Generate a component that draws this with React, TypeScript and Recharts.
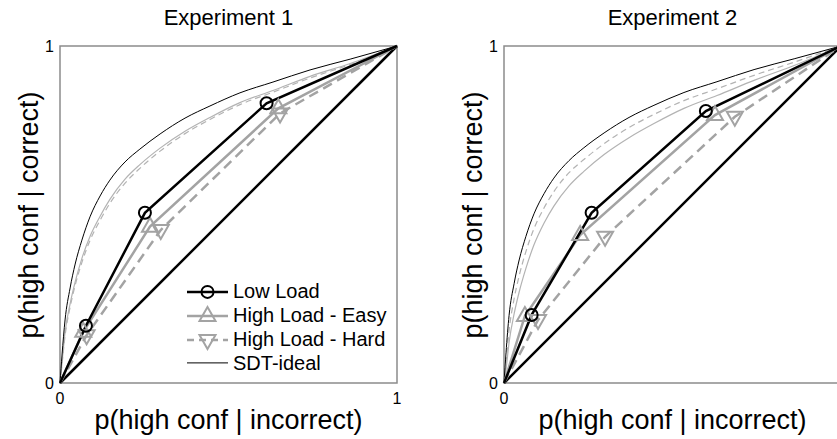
import React from 'react'
import { ComposedChart, Line, XAxis, YAxis, ReferenceArea, Legend } from 'recharts'

type Pt = { x: number; y: number }

const FONT = '"Liberation Sans", Arial, Helvetica, sans-serif'
const GREY = '#a3a3a3'
const THIN_GREY = '#b3b3b3'

const titles = ['Experiment 1', 'Experiment 2']
const xLabel = 'p(high conf | incorrect)'
const yLabel = 'p(high conf | correct)'
const yTicks = [0, 1]
const xTicks1 = [0, 1]
const xTicks2 = [0]
const legendNames = ['Low Load', 'High Load - Easy', 'High Load - Hard', 'SDT-ideal']

// chance diagonal
const chance: Pt[] = [{ x: 0, y: 0 }, { x: 1, y: 1 }]

// observed ROC points, anchored at (0,0) and (1,1)
const exp1Low: Pt[] = [{ x: 0, y: 0 }, { x: 0.077, y: 0.17 }, { x: 0.252, y: 0.505 }, { x: 0.613, y: 0.83 }, { x: 1, y: 1 }]
const exp1Easy: Pt[] = [{ x: 0, y: 0 }, { x: 0.069, y: 0.152 }, { x: 0.267, y: 0.464 }, { x: 0.648, y: 0.815 }, { x: 1, y: 1 }]
const exp1Hard: Pt[] = [{ x: 0, y: 0 }, { x: 0.079, y: 0.142 }, { x: 0.299, y: 0.454 }, { x: 0.653, y: 0.8 }, { x: 1, y: 1 }]

const exp2Low: Pt[] = [{ x: 0, y: 0 }, { x: 0.082, y: 0.202 }, { x: 0.26, y: 0.505 }, { x: 0.599, y: 0.807 }, { x: 1, y: 1 }]
const exp2Easy: Pt[] = [{ x: 0, y: 0 }, { x: 0.062, y: 0.199 }, { x: 0.226, y: 0.439 }, { x: 0.626, y: 0.795 }, { x: 1, y: 1 }]
const exp2Hard: Pt[] = [{ x: 0, y: 0 }, { x: 0.101, y: 0.187 }, { x: 0.3, y: 0.434 }, { x: 0.685, y: 0.79 }, { x: 1, y: 1 }]

// SDT-ideal curves (false alarm rate grid shared by all curves)
const sdtX = [0, 0.006, 0.015, 0.03, 0.045, 0.065, 0.089, 0.119, 0.148, 0.193, 0.237, 0.297, 0.371, 0.445, 0.534, 0.632, 0.742, 0.861, 1]

const sdt1LowY = [0, 0.083, 0.187, 0.282, 0.353, 0.424, 0.493, 0.555, 0.602, 0.656, 0.694, 0.739, 0.786, 0.822, 0.861, 0.893, 0.929, 0.961, 1]
const sdt1EasyY = [0, 0.06, 0.15, 0.235, 0.3, 0.37, 0.435, 0.495, 0.545, 0.605, 0.648, 0.697, 0.747, 0.788, 0.832, 0.868, 0.91, 0.948, 1]
const sdt1HardY = [0, 0.055, 0.14, 0.225, 0.29, 0.358, 0.423, 0.483, 0.533, 0.593, 0.637, 0.688, 0.74, 0.782, 0.826, 0.863, 0.905, 0.945, 1]

const sdt2LowY = [0, 0.09, 0.2, 0.295, 0.365, 0.435, 0.502, 0.562, 0.608, 0.66, 0.698, 0.742, 0.788, 0.824, 0.862, 0.894, 0.93, 0.962, 1]
const sdt2HardY = [0, 0.06, 0.155, 0.25, 0.318, 0.39, 0.458, 0.52, 0.568, 0.624, 0.663, 0.71, 0.758, 0.797, 0.838, 0.873, 0.913, 0.952, 1]
const sdt2EasyY = [0, 0.04, 0.12, 0.205, 0.27, 0.34, 0.41, 0.475, 0.525, 0.585, 0.628, 0.678, 0.728, 0.77, 0.815, 0.853, 0.898, 0.942, 1]

const toPts = (ys: number[]): Pt[] => ys.map((y, i) => ({ x: sdtX[i], y }))

type Shape = 'circle' | 'up' | 'down'

const MarkerShape = ({ cx, cy, shape, color }: { cx: number; cy: number; shape: Shape; color: string }) => {
  if (shape === 'circle') return <circle cx={cx} cy={cy} r={6} fill="none" stroke={color} strokeWidth={2} />
  const pts =
    shape === 'up'
      ? `${cx},${cy - 9} ${cx - 8},${cy + 5} ${cx + 8},${cy + 5}`
      : `${cx},${cy + 9} ${cx - 8},${cy - 5} ${cx + 8},${cy - 5}`
  return <polygon points={pts} fill="none" stroke={color} strokeWidth={2} />
}

// markers only on the interior points, not the anchors
const makeDot = (shape: Shape, color: string) => (props: any) => {
  const { cx, cy, payload, index } = props
  if (cx == null || payload.x <= 0 || payload.x >= 1) return <g key={`e${index}`} />
  return <MarkerShape key={`m${index}`} cx={cx} cy={cy} shape={shape} color={color} />
}

const legendStyles = [
  { color: '#000', dash: undefined, width: 2.5, shape: 'circle' as Shape | null },
  { color: GREY, dash: undefined, width: 2.5, shape: 'up' as Shape | null },
  { color: GREY, dash: '7 5', width: 2.5, shape: 'down' as Shape | null },
  { color: '#000', dash: undefined, width: 1, shape: null as Shape | null },
]

const renderLegend = () => (
  <div style={{ fontFamily: FONT, fontSize: 20, color: '#000' }}>
    {legendNames.map((name, i) => {
      const s = legendStyles[i]
      return (
        <div key={name} style={{ display: 'flex', alignItems: 'center', height: 23.8, whiteSpace: 'nowrap' }}>
          <svg width={50} height={23.8}>
            <line x1={4} x2={45} y1={11.9} y2={11.9} stroke={s.color} strokeWidth={s.width} strokeDasharray={s.dash} />
            {s.shape && <MarkerShape cx={24.5} cy={11.9} shape={s.shape} color={s.color} />}
          </svg>
          <span>{name}</span>
        </div>
      )
    })}
  </div>
)

type PanelProps = {
  left: number
  title: string
  xTicks: number[]
  low: Pt[]
  easy: Pt[]
  hard: Pt[]
  sdtLow: Pt[]
  sdtEasy: Pt[]
  sdtHard: Pt[]
  legend?: boolean
}

const tickStyle = { fontSize: 16, fill: '#000', fontFamily: FONT }

function RocPanel({ left, title, xTicks, low, easy, hard, sdtLow, sdtEasy, sdtHard, legend }: PanelProps) {
  const cx = 60 + 337 / 2
  return (
    <div style={{ position: 'absolute', left, top: 0, width: 430, height: 439 }}>
      <div style={{ position: 'absolute', left: cx - 150, top: 6, width: 300, textAlign: 'center', fontFamily: FONT, fontSize: 22, lineHeight: '24px' }}>
        {title}
      </div>
      <div style={{ position: 'absolute', left: cx - 200, top: 404, width: 400, textAlign: 'center', fontFamily: FONT, fontSize: 27, lineHeight: '32px', whiteSpace: 'nowrap' }}>
        {xLabel}
      </div>
      <div
        style={{
          position: 'absolute', left: 29 - 170, top: 215 - 16, width: 340, height: 32, textAlign: 'center',
          fontFamily: FONT, fontSize: 27, lineHeight: '32px', transform: 'rotate(-90deg)', whiteSpace: 'nowrap',
        }}
      >
        {yLabel}
      </div>
      <ComposedChart width={430} height={439} margin={{ top: 46, right: 33, bottom: 0, left: 0 }}>
        <XAxis type="number" dataKey="x" domain={[0, 1]} ticks={xTicks} height={56} axisLine={false} tickLine={false} tickSize={8} tick={tickStyle} />
        <YAxis type="number" dataKey="y" domain={[0, 1]} ticks={yTicks} width={60} axisLine={false} tickLine={false} tickSize={4} tick={tickStyle} />
        <ReferenceArea x1={0} x2={1} y1={0} y2={1} fill="none" stroke="#8c8c8c" strokeWidth={1.5} />
        <Line data={sdtHard} dataKey="y" type="monotone" stroke={THIN_GREY} strokeWidth={1.2} strokeDasharray="6 4" dot={false} isAnimationActive={false} />
        <Line data={sdtEasy} dataKey="y" type="monotone" stroke={THIN_GREY} strokeWidth={1.2} dot={false} isAnimationActive={false} />
        <Line data={sdtLow} dataKey="y" type="monotone" stroke="#000" strokeWidth={1} dot={false} isAnimationActive={false} />
        <Line data={chance} dataKey="y" type="linear" stroke="#000" strokeWidth={2.5} dot={false} isAnimationActive={false} />
        <Line data={hard} dataKey="y" type="linear" stroke={GREY} strokeWidth={2.5} strokeDasharray="10 6" dot={makeDot('down', GREY)} isAnimationActive={false} />
        <Line data={easy} dataKey="y" type="linear" stroke={GREY} strokeWidth={2.5} dot={makeDot('up', GREY)} isAnimationActive={false} />
        <Line data={low} dataKey="y" type="linear" stroke="#000" strokeWidth={2.5} dot={makeDot('circle', '#000')} isAnimationActive={false} />
        {legend && (
          <Legend layout="vertical" align="center" verticalAlign="middle" content={renderLegend} wrapperStyle={{ left: 183, top: 280, width: 'auto' }} />
        )}
      </ComposedChart>
    </div>
  )
}

export default function App() {
  return (
    <div style={{ position: 'fixed', left: 0, top: 0, width: 837, height: 439, overflow: 'hidden', background: '#fff' }}>
      <RocPanel
        left={0} title={titles[0]} xTicks={xTicks1} low={exp1Low} easy={exp1Easy} hard={exp1Hard}
        sdtLow={toPts(sdt1LowY)} sdtEasy={toPts(sdt1EasyY)} sdtHard={toPts(sdt1HardY)} legend
      />
      <RocPanel
        left={444} title={titles[1]} xTicks={xTicks2} low={exp2Low} easy={exp2Easy} hard={exp2Hard}
        sdtLow={toPts(sdt2LowY)} sdtEasy={toPts(sdt2EasyY)} sdtHard={toPts(sdt2HardY)}
      />
    </div>
  )
}
